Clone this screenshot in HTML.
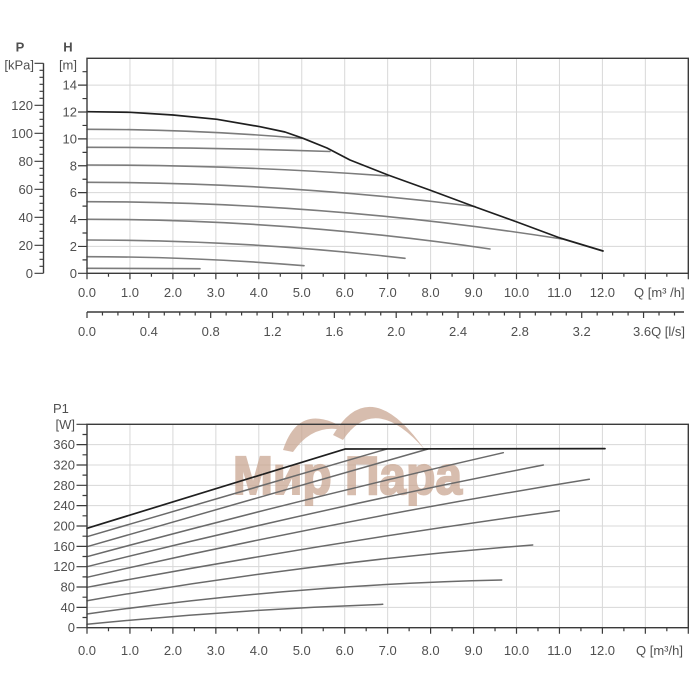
<!DOCTYPE html>
<html><head><meta charset="utf-8"><style>
html,body{margin:0;padding:0;background:#fff;}
svg{display:block;}
text{font-family:"Liberation Sans",Arial,sans-serif;fill:#505050;font-size:13px;}
</style></head><body>
<svg width="700" height="700" viewBox="0 0 700 700" xmlns="http://www.w3.org/2000/svg">
<rect width="700" height="700" fill="#fff"/>
<!-- ===== TOP CHART GRID ===== -->
<g stroke="#d8d8d8" stroke-width="1" fill="none">
<path d="M129.95 58.3V273.3M172.9 58.3V273.3M215.85 58.3V273.3M258.8 58.3V273.3M301.75 58.3V273.3M344.7 58.3V273.3M387.65 58.3V273.3M430.6 58.3V273.3M473.55 58.3V273.3M516.5 58.3V273.3M559.45 58.3V273.3M602.4 58.3V273.3M645.35 58.3V273.3"/>
<path d="M87 246.42H688.3M87 219.54H688.3M87 192.66H688.3M87 165.78H688.3M87 138.9H688.3M87 112.02H688.3M87 85.14H688.3"/>
</g>
<!-- ===== BOTTOM CHART GRID ===== -->
<g stroke="#d8d8d8" stroke-width="1" fill="none">
<path d="M129.95 424.3V627.7M172.9 424.3V627.7M215.85 424.3V627.7M258.8 424.3V627.7M301.75 424.3V627.7M344.7 424.3V627.7M387.65 424.3V627.7M430.6 424.3V627.7M473.55 424.3V627.7M516.5 424.3V627.7M559.45 424.3V627.7M602.4 424.3V627.7M645.35 424.3V627.7"/>
<path d="M87 607.36H688.3M87 587.02H688.3M87 566.68H688.3M87 546.34H688.3M87 526H688.3M87 505.66H688.3M87 485.32H688.3M87 464.98H688.3M87 444.64H688.3"/>
</g>

<!-- ===== WATERMARK ===== -->
<g fill="#c9a590" opacity="0.72">
<path d="M283 450 Q300 398 350 432 Q315 420 293 452 Z"/>
<path d="M333 435 Q370 372 425 450 Q375 392 343 440 Z"/>
<text x="233" y="494" font-size="54" font-weight="bold" textLength="229" lengthAdjust="spacingAndGlyphs" stroke="#c9a590" stroke-width="2" style="fill:#c9a590;font-size:54px;">Мир Пара</text>
</g>

<!-- ===== TOP CURVES ===== -->
<g fill="none" stroke="#7c7c7c" stroke-width="1.6" stroke-linecap="round">
<path d="M87 129.3 Q194.35 129.3 301.7 138.3"/>
<path d="M87 147.3 Q208.5 147.3 330 151.5"/>
<path d="M87 165 Q237.5 165 388 176"/>
<path d="M87 182.3 Q281 182.3 475 206.5"/>
<path d="M87 201.7 Q324.5 201.7 562 239"/>
<path d="M87 219.3 Q288.5 219.3 490 249"/>
<path d="M87 240 Q246 240 405 258.3"/>
<path d="M87 256.7 Q195.5 256.7 304 265.7"/>
<path d="M87 268.3 L200 268.7"/>
</g>
<polyline fill="none" stroke="#1f1f1f" stroke-width="1.7" stroke-linejoin="round" stroke-linecap="round"
 points="87,111.7 130,112.3 173,115 217,119.3 260,126.7 285,132 303,138.3 327,148 350,160 388,175 431,190.5 474,206.5 517,222 560,238 603,251"/>

<!-- ===== BOTTOM CURVES ===== -->
<g fill="none" stroke="#6a6a6a" stroke-width="1.5" stroke-linecap="round">
<path d="M87 536.7 L386.7 449"/>
<path d="M87 546.7 L428 449"/>
<path d="M87 556.7 Q295.2 500.4 503.3 452.7"/>
<path d="M87 566.7 Q315.15 509.55 543.3 465"/>
<path d="M87 577.3 Q338.15 519.7 589.3 479.3"/>
<path d="M87 587.3 Q323.15 543 559.3 510.7"/>
<path d="M87 600.7 Q309.85 562.2 532.7 545"/>
<path d="M87 614 Q294.35 584.6 501.7 580"/>
<path d="M87 624.3 Q234.9 609.5 382.7 604.3"/>
</g>
<polyline fill="none" stroke="#1f1f1f" stroke-width="1.7" stroke-linejoin="round" stroke-linecap="round" points="87,528.3 345,449 605,448.6"/>

<!-- ===== FRAMES ===== -->
<g fill="none" stroke="#3a3a3a" stroke-width="1.4">
<rect x="87" y="58.3" width="601.3" height="215"/>
<rect x="87" y="424.3" width="601.3" height="203.4"/>
<path d="M43.5 63.3V273.3"/>
<path d="M87 312H684"/>
</g>

<!-- ===== TICKS ===== -->
<g fill="none" stroke="#3a3a3a" stroke-width="1.2">
<path d="M87 273.3v6M129.95 273.3v6M172.9 273.3v6M215.85 273.3v6M258.8 273.3v6M301.75 273.3v6M344.7 273.3v6M387.65 273.3v6M430.6 273.3v6M473.55 273.3v6M516.5 273.3v6M559.45 273.3v6M602.4 273.3v6M645.35 273.3v6M688.3 273.3v6"/>
<path d="M108.48 273.3v3.5M151.43 273.3v3.5M194.38 273.3v3.5M237.33 273.3v3.5M280.28 273.3v3.5M323.23 273.3v3.5M366.18 273.3v3.5M409.13 273.3v3.5M452.08 273.3v3.5M495.03 273.3v3.5M537.98 273.3v3.5M580.93 273.3v3.5M623.88 273.3v3.5M666.83 273.3v3.5"/>
<path d="M87 627.7v6M129.95 627.7v6M172.9 627.7v6M215.85 627.7v6M258.8 627.7v6M301.75 627.7v6M344.7 627.7v6M387.65 627.7v6M430.6 627.7v6M473.55 627.7v6M516.5 627.7v6M559.45 627.7v6M602.4 627.7v6M645.35 627.7v6M688.3 627.7v6"/>
<path d="M108.48 627.7v3.5M151.43 627.7v3.5M194.38 627.7v3.5M237.33 627.7v3.5M280.28 627.7v3.5M323.23 627.7v3.5M366.18 627.7v3.5M409.13 627.7v3.5M452.08 627.7v3.5M495.03 627.7v3.5M537.98 627.7v3.5M580.93 627.7v3.5M623.88 627.7v3.5M666.83 627.7v3.5"/>
<path d="M87 312v6M148.84 312v6M210.68 312v6M272.52 312v6M334.36 312v6M396.2 312v6M458.04 312v6M519.88 312v6M581.72 312v6M643.56 312v6"/>
<path d="M102.46 312v3.5M117.92 312v3.5M133.38 312v3.5M164.3 312v3.5M179.76 312v3.5M195.22 312v3.5M226.14 312v3.5M241.6 312v3.5M257.06 312v3.5M287.98 312v3.5M303.44 312v3.5M318.9 312v3.5M349.82 312v3.5M365.28 312v3.5M380.74 312v3.5M411.66 312v3.5M427.12 312v3.5M442.58 312v3.5M473.5 312v3.5M488.96 312v3.5M504.42 312v3.5M535.34 312v3.5M550.8 312v3.5M566.26 312v3.5M597.18 312v3.5M612.64 312v3.5M628.1 312v3.5M659.02 312v3.5M674.48 312v3.5"/>
<path d="M78 273.3H87M78 246.42H87M78 219.54H87M78 192.66H87M78 165.78H87M78 138.9H87M78 112.02H87M78 85.14H87"/>
<path d="M82.5 259.86H87M82.5 232.98H87M82.5 206.1H87M82.5 179.22H87M82.5 152.34H87M82.5 125.46H87M82.5 98.58H87M82.5 71.7H87"/>
<path d="M34.5 273.3H43.5M34.5 245.3H43.5M34.5 217.3H43.5M34.5 189.3H43.5M34.5 161.3H43.5M34.5 133.3H43.5M34.5 105.3H43.5M34.5 63.3H43.5"/>
<path d="M39.5 266.3H43.5M39.5 259.3H43.5M39.5 252.3H43.5M39.5 238.3H43.5M39.5 231.3H43.5M39.5 224.3H43.5M39.5 210.3H43.5M39.5 203.3H43.5M39.5 196.3H43.5M39.5 182.3H43.5M39.5 175.3H43.5M39.5 168.3H43.5M39.5 154.3H43.5M39.5 147.3H43.5M39.5 140.3H43.5M39.5 126.3H43.5M39.5 119.3H43.5M39.5 112.3H43.5M39.5 98.3H43.5M39.5 91.3H43.5M39.5 84.3H43.5M39.5 77.3H43.5M39.5 70.3H43.5"/>
<path d="M76.5 627.7H87M76.5 607.36H87M76.5 587.02H87M76.5 566.68H87M76.5 546.34H87M76.5 526H87M76.5 505.66H87M76.5 485.32H87M76.5 464.98H87M76.5 444.64H87M76.5 424.3H87"/>
<path d="M82.5 617.53H87M82.5 597.19H87M82.5 576.85H87M82.5 556.51H87M82.5 536.17H87M82.5 515.83H87M82.5 495.49H87M82.5 475.15H87M82.5 454.81H87M82.5 434.47H87"/>
</g>

<!-- ===== TEXT: TOP ===== -->
<text x="20" y="51.5" text-anchor="middle" font-weight="bold" style="font-weight:bold">P</text>
<text x="68" y="51.5" text-anchor="middle" font-weight="bold" style="font-weight:bold">H</text>
<text x="34" y="69.5" text-anchor="end">[kPa]</text>
<text x="77" y="69.5" text-anchor="end">[m]</text>
<g text-anchor="end">
<text x="33" y="277.8">0</text>
<text x="33" y="249.8">20</text>
<text x="33" y="221.8">40</text>
<text x="33" y="193.8">60</text>
<text x="33" y="165.8">80</text>
<text x="33" y="137.8">100</text>
<text x="33" y="109.8">120</text>
<text x="77" y="277.8">0</text>
<text x="77" y="250.9">2</text>
<text x="77" y="224">4</text>
<text x="77" y="197.2">6</text>
<text x="77" y="170.3">8</text>
<text x="77" y="143.4">10</text>
<text x="77" y="116.5">12</text>
<text x="77" y="89.6">14</text>
</g>
<g text-anchor="middle">
<text x="87" y="297">0.0</text>
<text x="129.95" y="297">1.0</text>
<text x="172.9" y="297">2.0</text>
<text x="215.85" y="297">3.0</text>
<text x="258.8" y="297">4.0</text>
<text x="301.75" y="297">5.0</text>
<text x="344.7" y="297">6.0</text>
<text x="387.65" y="297">7.0</text>
<text x="430.6" y="297">8.0</text>
<text x="473.55" y="297">9.0</text>
<text x="516.5" y="297">10.0</text>
<text x="559.45" y="297">11.0</text>
<text x="602.4" y="297">12.0</text>
<text x="87" y="336">0.0</text>
<text x="148.84" y="336">0.4</text>
<text x="210.68" y="336">0.8</text>
<text x="272.52" y="336">1.2</text>
<text x="334.36" y="336">1.6</text>
<text x="396.2" y="336">2.0</text>
<text x="458.04" y="336">2.4</text>
<text x="519.88" y="336">2.8</text>
<text x="581.72" y="336">3.2</text>
</g>
<text x="634" y="297">Q [m³ /h]</text>
<text x="633" y="336">3.6Q [l/s]</text>

<!-- ===== TEXT: BOTTOM ===== -->
<text x="53" y="413">P1</text>
<g text-anchor="end">
<text x="75" y="429">[W]</text>
<text x="75" y="632.2">0</text>
<text x="75" y="611.9">40</text>
<text x="75" y="591.5">80</text>
<text x="75" y="571.2">120</text>
<text x="75" y="550.8">160</text>
<text x="75" y="530.5">200</text>
<text x="75" y="510.2">240</text>
<text x="75" y="489.8">280</text>
<text x="75" y="469.5">320</text>
<text x="75" y="449.1">360</text>
</g>
<g text-anchor="middle">
<text x="87" y="655">0.0</text>
<text x="129.95" y="655">1.0</text>
<text x="172.9" y="655">2.0</text>
<text x="215.85" y="655">3.0</text>
<text x="258.8" y="655">4.0</text>
<text x="301.75" y="655">5.0</text>
<text x="344.7" y="655">6.0</text>
<text x="387.65" y="655">7.0</text>
<text x="430.6" y="655">8.0</text>
<text x="473.55" y="655">9.0</text>
<text x="516.5" y="655">10.0</text>
<text x="559.45" y="655">11.0</text>
<text x="602.4" y="655">12.0</text>
</g>
<text x="636" y="655">Q [m³/h]</text>
</svg>
</body></html>
